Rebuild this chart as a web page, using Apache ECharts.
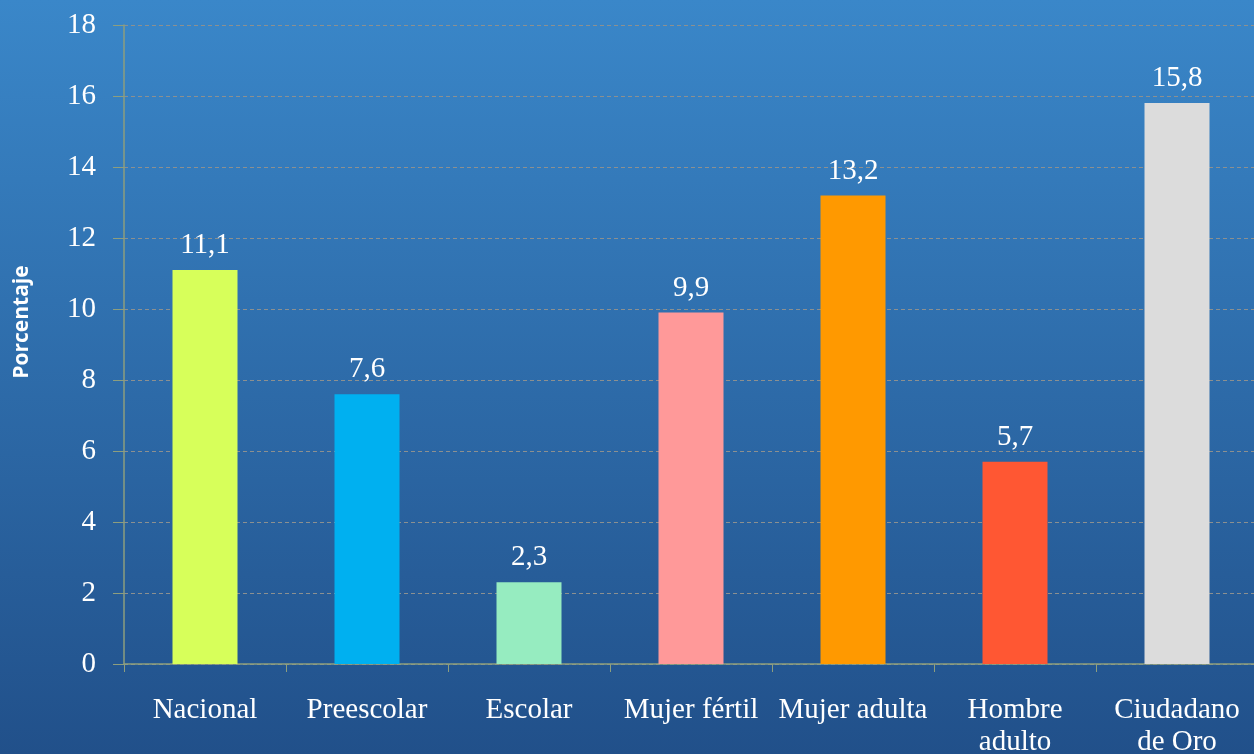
<!DOCTYPE html>
<html><head><meta charset="utf-8">
<script src="https://cdn.jsdelivr.net/npm/echarts@6/dist/echarts.min.js"></script>
<style>html,body{margin:0;padding:0;overflow:hidden;}#c{width:1254px;height:754px;background:linear-gradient(#3a87c9,#21508a);}</style>
</head><body><div id="c"></div>
<script>
const categories = ['Nacional','Preescolar','Escolar','Mujer fértil','Mujer adulta','Hombre\nadulto','Ciudadano\nde Oro'];
const values = [11.1, 7.6, 2.3, 9.9, 13.2, 5.7, 15.8];
const colors = ['#d7ff5a','#00b0f0','#96ecc0','#ff9999','#ff9900','#ff5733','#dcdcdc'];
const yTicks = {min:0, max:18, interval:2};
const yTitle = 'Porcentaje';

const chart = echarts.init(document.getElementById('c'));
const serif = 'Liberation Serif';
chart.setOption({
  animation:false,
  backgroundColor:'transparent',
  grid:{left:124, top:25, width:1134, height:639, outerBoundsMode:'none', containLabel:false},
  graphic:[{type:'text', x:22, y:322, rotation:Math.PI/2,
    style:{text:yTitle, fill:'#fff', font:'bold 21px "Open Sans"', align:'center', verticalAlign:'middle'}}],
  xAxis:{type:'category', data:categories,
    axisLine:{lineStyle:{color:'#8d9e7e', width:1.5}},
    axisTick:{show:true, length:8, lineStyle:{color:'#8d9e7e'}},
    axisLabel:{color:'#fff', fontFamily:serif, fontSize:29, margin:30, lineHeight:32, interval:0}},
  yAxis:{type:'value', min:yTicks.min, max:yTicks.max, interval:yTicks.interval,
    axisLine:{show:true, lineStyle:{color:'#8d9e7e', width:1.5}},
    axisTick:{show:true, length:11, lineStyle:{color:'#8d9e7e'}},
    axisLabel:{color:'#fff', fontFamily:serif, fontSize:29, margin:28},
    splitLine:{show:true, lineStyle:{color:'#8c9090', type:[4,3], width:1}}},
  series:[{type:'bar', barWidth:65,
    data:values.map((v,i)=>({value:v, itemStyle:{color:colors[i]}})),
    label:{show:true, position:'top', distance:10, color:'#fff', fontFamily:serif, fontSize:29,
      formatter:p=>String(p.value).replace('.',',')}}]
});
</script></body></html>
